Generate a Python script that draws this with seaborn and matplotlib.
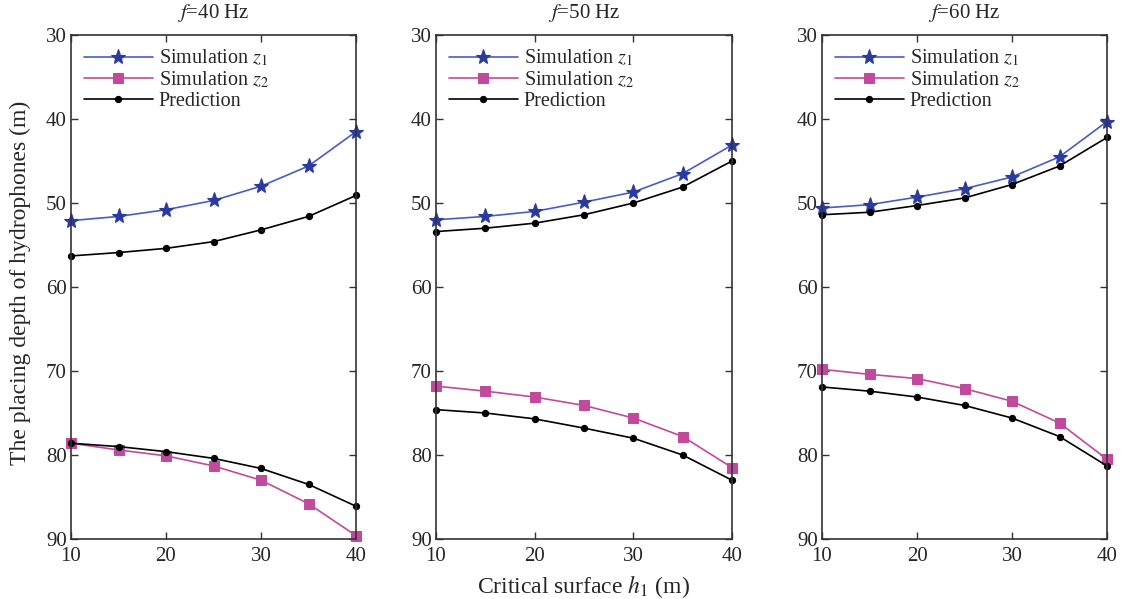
import numpy as np
import pandas as pd
import matplotlib
matplotlib.use("Agg")
import matplotlib.pyplot as plt
import seaborn as sns

h1 = [10, 15, 20, 25, 30, 35, 40]
freqs = ["40", "50", "60"]

sim_z1 = {
    "40": [52.1, 51.6, 50.8, 49.7, 48.0, 45.6, 41.5],
    "50": [52.0, 51.6, 51.0, 49.9, 48.7, 46.5, 43.1],
    "60": [50.6, 50.2, 49.3, 48.3, 46.9, 44.5, 40.3],
}
pred_upper = {
    "40": [56.3, 55.9, 55.4, 54.6, 53.2, 51.6, 49.1],
    "50": [53.4, 53.0, 52.4, 51.4, 50.0, 48.1, 45.0],
    "60": [51.4, 51.1, 50.3, 49.4, 47.8, 45.6, 42.2],
}
sim_z2 = {
    "40": [78.6, 79.4, 80.1, 81.3, 83.0, 85.8, 89.6],
    "50": [71.8, 72.4, 73.1, 74.1, 75.6, 77.8, 81.5],
    "60": [69.8, 70.4, 70.9, 72.1, 73.6, 76.2, 80.5],
}
pred_lower = {
    "40": [78.6, 79.0, 79.6, 80.4, 81.6, 83.5, 86.1],
    "50": [74.6, 75.0, 75.7, 76.8, 78.0, 80.0, 83.0],
    "60": [71.9, 72.4, 73.1, 74.1, 75.6, 77.8, 81.3],
}

sns.set_style("ticks")
plt.rcParams["font.family"] = ["Liberation Serif", "DejaVu Serif"]
plt.rcParams["mathtext.fontset"] = "stix"

fig = plt.figure(figsize=(11.22, 5.99), dpi=100)
W, H = 1122, 599
lefts = [71, 436, 822]
rights = [356, 732, 1107]
top, bottom = 35, 539

blue_line = "#4a5cc4"
blue_mk = "#2a3a9e"
mag = "#c24a9c"

for i, f in enumerate(freqs):
    ax = fig.add_axes([lefts[i] / W, 1 - bottom / H, (rights[i] - lefts[i]) / W, (bottom - top) / H])
    df1 = pd.DataFrame({"h": h1, "v": sim_z1[f]})
    df2 = pd.DataFrame({"h": h1, "v": sim_z2[f]})
    dpu = pd.DataFrame({"h": h1, "v": pred_upper[f]})
    dpl = pd.DataFrame({"h": h1, "v": pred_lower[f]})
    sns.lineplot(data=df1, x="h", y="v", ax=ax, color=blue_line, marker="*", markersize=11,
                 markerfacecolor=blue_mk, markeredgecolor=blue_mk, markeredgewidth=0.8, linewidth=1.2,
                 label="Simulation $z_1$", clip_on=False)
    sns.lineplot(data=df2, x="h", y="v", ax=ax, color=mag, marker="s", markersize=7,
                 markerfacecolor=mag, markeredgecolor=mag, linewidth=1.2,
                 label="Simulation $z_2$", clip_on=False)
    sns.lineplot(data=dpu, x="h", y="v", ax=ax, color="black", marker="o", markersize=4.5,
                 markerfacecolor="black", markeredgecolor="black",
                 linewidth=1.2, label="Prediction", clip_on=False)
    sns.lineplot(data=dpl, x="h", y="v", ax=ax, color="black", marker="o", markersize=4.5,
                 markerfacecolor="black", markeredgecolor="black",
                 linewidth=1.2, clip_on=False, legend=False)
    ax.set_xlim(10, 40)
    ax.set_ylim(90, 30)
    ax.set_xticks([10, 20, 30, 40])
    ax.set_yticks([30, 40, 50, 60, 70, 80, 90])
    ax.tick_params(direction="in", top=True, right=True, labelsize=15, length=5, width=1, color="#333333")
    ax.tick_params(axis="x", pad=6)
    ax.tick_params(axis="y", pad=3)
    for s in ax.spines.values():
        s.set_color("#333333")
        s.set_linewidth(1.2)
    ax.set_xlabel("")
    ax.set_ylabel("")
    ax.set_title(f"$f$={f} Hz", fontsize=15, pad=12)
    leg = ax.legend(loc="upper left", frameon=False, fontsize=14.5, handlelength=3.4,
                    borderaxespad=0.35, labelspacing=0.05, handletextpad=0.3,
                    borderpad=0.3)

fig.text(584 / W, 1 - 587 / H, "Critical surface $h_1$ (m)", ha="center", va="center", fontsize=17)
fig.text(20 / W, 1 - 283 / H, "The placing depth of hydrophones (m)", ha="center", va="center",
         rotation=90, fontsize=17)

fig.savefig("out.png", dpi=100)
